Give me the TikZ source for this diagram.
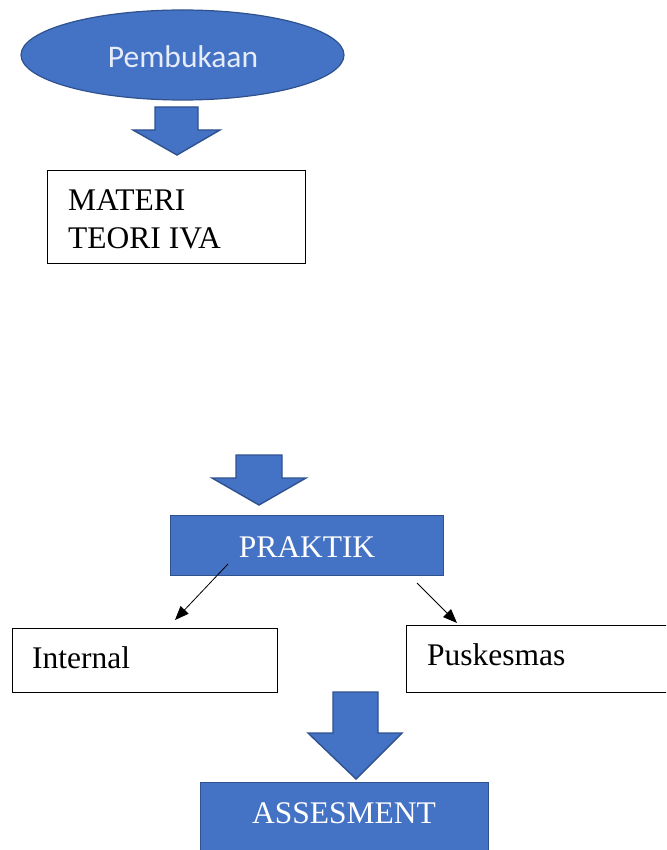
\documentclass[tikz,border=0pt]{standalone}
\usepackage{fontspec}
\setmainfont{Liberation Serif}
\newfontfamily\calib{Carlito}
\usetikzlibrary{arrows.meta,shapes.geometric}
\definecolor{oblue}{HTML}{4472C4}
\definecolor{oborder}{HTML}{2F528F}
\definecolor{ptext}{HTML}{E6ECF8}
\tikzset{
  whitebox/.style={draw=black, line width=0.8pt, fill=white, rectangle, inner sep=0pt},
  bluebox/.style={draw=oborder, line width=1pt, fill=oblue, rectangle, inner sep=0pt},
  blockarrow/.style={fill=oblue, draw=oborder, line width=1.4pt, line join=miter},
  serif/.style={font=\fontsize{31.5}{37}\selectfont, inner sep=0pt},
  thinarrow/.style={draw=black, line width=0.8pt, -{Triangle[length=14pt,width=11pt]}}
}
\begin{document}
\begin{tikzpicture}[x=1pt,y=-1pt]
\useasboundingbox (0,0) rectangle (666,850);
\begin{scope}
\clip (0,0) rectangle (666,850);
% Pembukaan ellipse
\node[ellipse, draw=oborder, line width=1.2pt, fill=oblue, minimum width=323pt, minimum height=90pt, inner sep=0pt] (pemb) at (182.5,55) {};
\node[font=\calib\fontsize{31.5}{36}\selectfont, text=ptext, anchor=base, inner sep=0pt] (pembtxt) at (183,68) {Pembukaan};
% block arrow 1
\draw[blockarrow] (155,107) -- (198,107) -- (198,130) -- (220,130) -- (177,155) -- (133,130) -- (155,130) -- cycle;
% Materi box
\node[whitebox, minimum width=258pt, minimum height=93pt] (materi) at (176,216.5) {};
\node[serif, anchor=base west] (m1) at (68,211) {MATERI};
\node[serif, anchor=base west] (m2) at (68,248) {TEORI IVA};
% block arrow 2
\draw[blockarrow] (236,455) -- (282,455) -- (282,478) -- (306,478) -- (259,505) -- (212,478) -- (236,478) -- cycle;
% Praktik
\node[bluebox, minimum width=273pt, minimum height=60pt] (praktik) at (306.5,545) {};
\node[serif, text=white, anchor=base] (ptxt) at (307,557) {PRAKTIK};
% Internal / Puskesmas
\node[whitebox, minimum width=265pt, minimum height=64pt] (internal) at (144.5,660) {};
\node[serif, anchor=base west] (itxt) at (32,668) {Internal};
\node[whitebox, minimum width=266pt, minimum height=67pt] (pusk) at (539,658.5) {};
\node[serif, anchor=base west] (pktxt) at (427,665) {Puskesmas};
% thin arrows
\coordinate (ls) at (228,564);
\coordinate (le) at (175,620);
\coordinate (rs) at (417,583);
\coordinate (re) at (457,623);
\draw[thinarrow] (ls) -- (le);
\draw[thinarrow] (rs) -- (re);
% block arrow 3
\draw[blockarrow] (333,692) -- (378,692) -- (378,733) -- (402,733) -- (356,779) -- (308,733) -- (333,733) -- cycle;
% Assesment
\node[bluebox, minimum width=288pt, minimum height=80pt] (assess) at (344,822) {};
\node[serif, text=white, anchor=base] (atxt) at (344,823) {ASSESMENT};
\end{scope}
\end{tikzpicture}
\end{document}
